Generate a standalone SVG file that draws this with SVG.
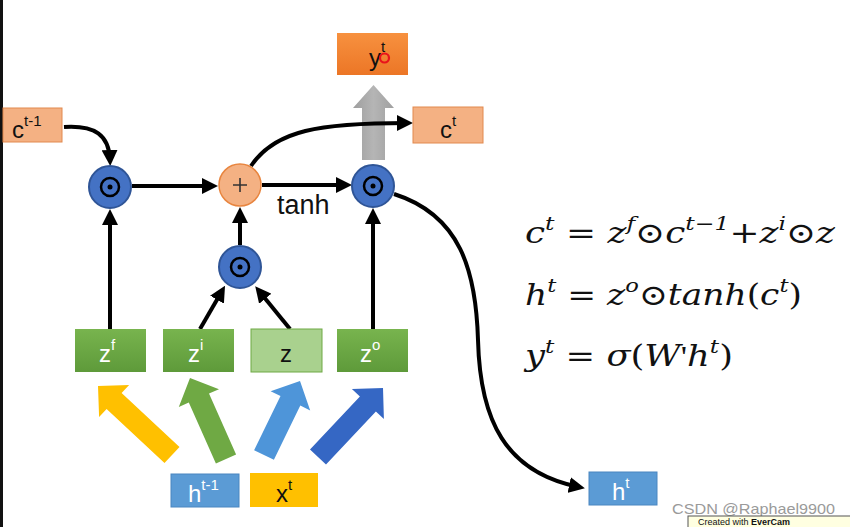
<svg xmlns="http://www.w3.org/2000/svg" width="850" height="527" viewBox="0 0 850 527">
<style>
.lbl{font-family:"Liberation Sans",Arial,sans-serif;font-size:24px}
.sup{font-size:15px}
.wt{fill:#ffffff}
.bk{fill:#111111}
.conn{fill:none;stroke:#000;stroke-width:4}
.mul{fill:#4472C4;stroke:#2F5597;stroke-width:2}
.ring{fill:none;stroke:#000;stroke-width:2.5}
.eq{font-family:"DejaVu Serif","Liberation Serif",serif;font-size:29px;fill:#111}
.it{font-style:italic}
.es{font-size:19px;font-style:italic}
</style>
<defs>
<marker id="ah" markerUnits="userSpaceOnUse" markerWidth="16" markerHeight="16" refX="10" refY="8" orient="auto">
<path d="M0,0 L16,8 L0,16 z" fill="#000"/>
</marker>
<linearGradient id="gGreen" x1="0" y1="0" x2="0" y2="1"><stop offset="0" stop-color="#78B44E"/><stop offset="1" stop-color="#5E9A3A"/></linearGradient>
<linearGradient id="gOrange" x1="0" y1="0" x2="0" y2="1"><stop offset="0" stop-color="#F7913F"/><stop offset="1" stop-color="#EC7626"/></linearGradient>
<linearGradient id="gGray" x1="0" y1="0" x2="1" y2="0"><stop offset="0" stop-color="#9E9E9E"/><stop offset="0.5" stop-color="#B5B5B5"/><stop offset="1" stop-color="#A0A0A0"/></linearGradient>
</defs>
<rect width="850" height="527" fill="#ffffff"/>
<rect x="0" y="0" width="3" height="527" fill="#111"/>

<g id="arrows-in">
<polygon points="179.5,447 121.6,393 129.1,384.9 98,386 99.1,417.1 106.6,409 164.5,463" fill="#FFC000"/>
<polygon points="236.1,454.5 209,393.6 219,389.2 190,378 178.8,407 188.8,402.6 215.9,463.5" fill="#6FA944"/>
<polygon points="273.9,459.8 300.3,405.6 310.2,410.4 300,381 270.6,391.2 280.5,396 254.1,450.2" fill="#4E95D9"/>
<polygon points="326,464.5 375.9,411.5 383.9,419.1 383,388 351.9,388.9 359.9,396.5 310,449.5" fill="#3567C4"/>
<polygon points="362,160 362,108 353,108 373.5,85 394,108 385,108 385,160" fill="url(#gGray)"/>
</g>

<g id="connectors">
<path class="conn" d="M64,127 C95,125 109,135 110,160" marker-end="url(#ah)"/>
<path class="conn" d="M132,186 L212,186" marker-end="url(#ah)"/>
<path class="conn" d="M262,185 L346,185" marker-end="url(#ah)"/>
<path class="conn" d="M251,166 C275,130 320,123 407,123" marker-end="url(#ah)"/>
<path class="conn" d="M110,332 L110,215" marker-end="url(#ah)"/>
<path class="conn" d="M200,329 L222,291" marker-end="url(#ah)"/>
<path class="conn" d="M290,329 L259,291" marker-end="url(#ah)"/>
<path class="conn" d="M240,245 L240,213" marker-end="url(#ah)"/>
<path class="conn" d="M373,332 L373,214" marker-end="url(#ah)"/>
<path class="conn" d="M394,194 C460,215 476,270 478,340 C480,420 505,472 579,487" marker-end="url(#ah)"/>
</g>

<g id="c_prev">
<rect x="3" y="108" width="59" height="34" fill="#F4B183" stroke="#E2894E" stroke-width="1"/>
<text class="lbl bk" x="12" y="138">c<tspan class="sup" dy="-12">t-1</tspan></text>
</g>
<g id="c_t">
<rect x="413" y="107" width="70" height="36" fill="#F4B183" stroke="#E2894E" stroke-width="1"/>
<text class="lbl bk" x="440" y="138">c<tspan class="sup" dy="-12">t</tspan></text>
</g>
<g id="y_t">
<rect x="337" y="33" width="71" height="42" fill="url(#gOrange)"/>
<text class="lbl bk" x="369" y="66">y<tspan class="sup" dy="-14" font-size="12">t</tspan></text>
<circle cx="384.5" cy="58" r="4.5" fill="none" stroke="#E8141B" stroke-width="2.2"/>
</g>

<g id="mul_f">
<circle class="mul" cx="110" cy="187" r="21"/>
<circle class="ring" cx="110" cy="187" r="9"/>
<circle cx="110" cy="187" r="2.5" fill="#000"/>
</g>
<g id="plus">
<circle cx="240" cy="185" r="21" fill="#F4B183" stroke="#E8853F" stroke-width="1.5"/>
<path d="M233,185 H247 M240,178 V192" stroke="#333" stroke-width="1.6"/>
</g>
<g id="mul_o">
<circle class="mul" cx="373" cy="186" r="21"/>
<circle class="ring" cx="373" cy="186" r="9"/>
<circle cx="373" cy="186" r="2.5" fill="#000"/>
</g>
<g id="mul_i">
<circle class="mul" cx="240" cy="267" r="21"/>
<circle class="ring" cx="240" cy="267" r="9"/>
<circle cx="240" cy="267" r="2.5" fill="#000"/>
</g>
<text id="tanh" x="277" y="214" font-family="'Liberation Sans',Arial,sans-serif" font-size="27" fill="#111">tanh</text>

<g id="z_f">
<rect x="75" y="329" width="71" height="43" fill="url(#gGreen)"/>
<text class="lbl wt" x="99" y="362">z<tspan class="sup" dy="-12">f</tspan></text>
</g>
<g id="z_i">
<rect x="163" y="329" width="71" height="43" fill="url(#gGreen)"/>
<text class="lbl wt" x="188" y="362">z<tspan class="sup" dy="-12">i</tspan></text>
</g>
<g id="z">
<rect x="251" y="329" width="71" height="43" fill="#A9D18E" stroke="#6FA944" stroke-width="1"/>
<text class="lbl bk" x="280" y="362">z</text>
</g>
<g id="z_o">
<rect x="337" y="329" width="71" height="43" fill="url(#gGreen)"/>
<text class="lbl wt" x="360" y="362">z<tspan class="sup" dy="-12">o</tspan></text>
</g>

<g id="h_prev">
<rect x="171" y="474" width="68" height="33" fill="#5B9BD5" stroke="#4A86C0" stroke-width="1"/>
<text class="lbl wt" x="188" y="502">h<tspan class="sup" dy="-12">t-1</tspan></text>
</g>
<g id="x_t">
<rect x="250" y="473" width="68" height="34" fill="#FFC000"/>
<text class="lbl bk" x="276" y="502">x<tspan class="sup" dy="-12">t</tspan></text>
</g>
<g id="h_t">
<rect x="589" y="472" width="68" height="33" fill="#5B9BD5" stroke="#4A86C0" stroke-width="1"/>
<text class="lbl wt" x="612" y="500">h<tspan class="sup" dy="-12">t</tspan></text>
</g>

<g id="equations">
<text class="eq" x="525" y="243" textLength="310" lengthAdjust="spacingAndGlyphs"><tspan class="it">c</tspan><tspan class="es" dy="-13">t</tspan><tspan dy="13"> = </tspan><tspan class="it">z</tspan><tspan class="es" dy="-13">f</tspan><tspan dy="13">⊙</tspan><tspan class="it">c</tspan><tspan class="es" dy="-13">t−1</tspan><tspan dy="13">+</tspan><tspan class="it">z</tspan><tspan class="es" dy="-13">i</tspan><tspan dy="13">⊙</tspan><tspan class="it">z</tspan></text>
<text class="eq" x="525" y="305" textLength="277" lengthAdjust="spacingAndGlyphs"><tspan class="it">h</tspan><tspan class="es" dy="-13">t</tspan><tspan dy="13"> = </tspan><tspan class="it">z</tspan><tspan class="es" dy="-13">o</tspan><tspan dy="13">⊙</tspan><tspan class="it">tanh</tspan>(<tspan class="it">c</tspan><tspan class="es" dy="-13">t</tspan><tspan dy="13">)</tspan></text>
<text class="eq" x="525" y="366" textLength="208" lengthAdjust="spacingAndGlyphs"><tspan class="it">y</tspan><tspan class="es" dy="-13">t</tspan><tspan dy="13"> = </tspan><tspan class="it">σ</tspan>(<tspan class="it">W</tspan><tspan font-family="'Liberation Serif',serif">'</tspan><tspan class="it">h</tspan><tspan class="es" dy="-13">t</tspan><tspan dy="13">)</tspan></text>
</g>

<text id="watermark" x="672" y="514" font-family="'Liberation Sans',Arial,sans-serif" font-size="15" fill="#9A9A9A" textLength="163" lengthAdjust="spacingAndGlyphs">CSDN @Raphael9900</text>
<g id="tooltip">
<rect x="688" y="516" width="170" height="20" fill="#FFFFE1" stroke="#555" stroke-width="1"/>
<text x="698" y="525" font-family="'Liberation Sans',Arial,sans-serif" font-size="9" fill="#111">Created with <tspan font-weight="bold">EverCam</tspan></text>
</g>
</svg>
